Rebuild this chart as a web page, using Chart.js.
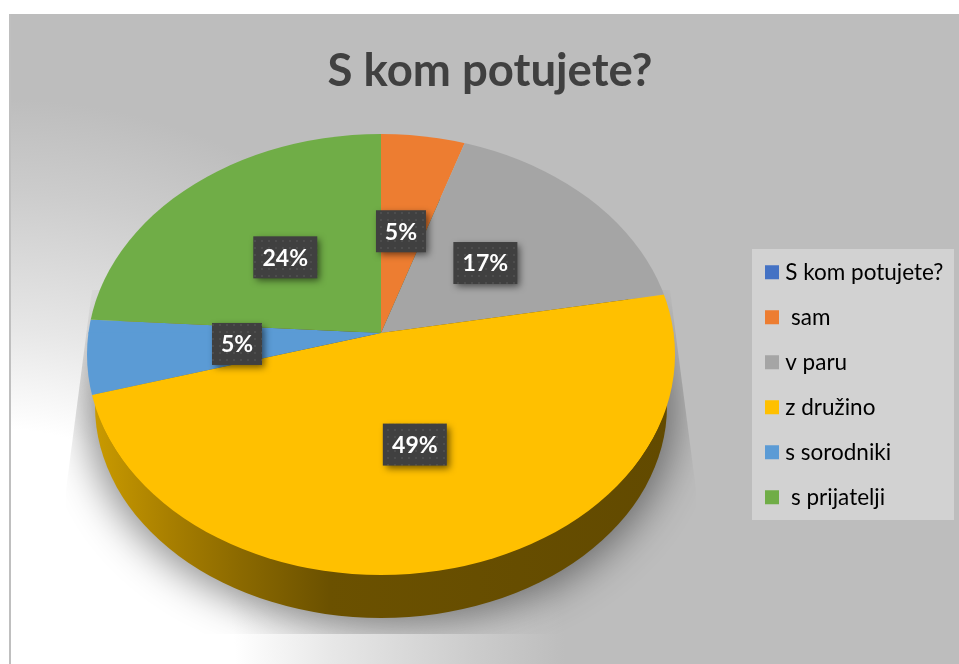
<!DOCTYPE html>
<html>
<head>
<meta charset="utf-8">
<style>html,body{margin:0;padding:0;background:#fff}canvas{display:block}</style>
<script src="https://cdn.jsdelivr.net/npm/chart.js@4"></script>
</head>
<body>
<canvas id="c" width="959" height="664"></canvas>
<script>
const chartTitle = 'S kom potujete?';
const categories = ['S kom potujete?', ' sam', 'v paru', 'z družino', 's sorodniki', ' s prijatelji'];
const shares = [0, 4.55, 17.25, 49.2, 5.1, 23.9];
const sliceColors = ['#4472c4', '#ed7d31', '#a5a5a5', '#ffc000', '#5b9bd5', '#70ad47'];

const FONT = 'Lato, "Open Sans", sans-serif';
const APEX = {x: 381, y: 333};
const RIM = {x: 381, y: 354.5, rx: 294, ry: 220.5};
const FLOOR = {x: 381, y: 406, rx: 286, ry: 212};
const labelReach = [0, .514, .495, .458, .482, .497];
const labelNudge = [[0, 0], [-2, 0], [-5, -3], [3, 0], [0, 0], [6, -3]];

function ellipse(ctx, e) { ctx.beginPath(); ctx.ellipse(e.x, e.y, e.rx, e.ry, 0, 0, Math.PI * 2); }

const scene = {
  id: 'scene',
  afterLayout(chart) {
    const t = chart.titleBlock, l = chart.legend;
    t.left = 0; t.right = 980; t.top = 44;
    const p = l.options.labels.padding;
    const w = l.right - l.left;
    l.left = 770 - p; l.right = l.left + w;
    const h = l.bottom - l.top;
    l.top = 261 - p; l.bottom = l.top + h;
  },
  beforeDraw(chart) {
    const ctx = chart.ctx;
    ctx.save();
    ctx.fillStyle = '#fff'; ctx.fillRect(0, 0, 959, 664);
    const g = ctx.createRadialGradient(0, 664, 235, 0, 664, 565);
    g.addColorStop(0, '#ffffff'); g.addColorStop(.3, '#e7e7e7');
    g.addColorStop(.72, '#cccccc'); g.addColorStop(1, '#bdbdbd');
    ctx.fillStyle = g; ctx.fillRect(9, 14, 950, 650);
    ctx.fillStyle = '#bfbfbf'; ctx.fillRect(9, 14, 2, 650);
    ctx.fillStyle = '#d2d2d2'; ctx.fillRect(752, 249, 202, 271);
    ctx.restore();
  },
  beforeDatasetsDraw(chart) {
    const ctx = chart.ctx;
    // cast shadow (source ellipse kept off canvas, only its blur lands here)
    ctx.save();
    ctx.beginPath();
    ctx.moveTo(92, 290); ctx.lineTo(670, 290); ctx.lineTo(696, 490);
    ctx.lineTo(696, 634); ctx.lineTo(66, 634); ctx.lineTo(66, 490); ctx.closePath();
    ctx.clip();
    ctx.shadowColor = 'rgba(0,0,0,.45)'; ctx.shadowBlur = 40; ctx.shadowOffsetX = 3000;
    ctx.fillStyle = '#000';
    ellipse(ctx, {x: 381 - 3000, y: 408, rx: 294, ry: 218}); ctx.fill();
    ctx.restore();
    // side wall
    ctx.save();
    const w = ctx.createLinearGradient(95, 0, 667, 0);
    w.addColorStop(0, '#c99a00'); w.addColorStop(.13, '#a87f00');
    w.addColorStop(.25, '#8c6a00'); w.addColorStop(.41, '#6b5100'); w.addColorStop(1, '#624a00');
    ctx.fillStyle = w; ellipse(ctx, FLOOR); ctx.fill();
    ctx.restore();
    // top face: library arcs tilted about the apex, upper and lower halves in perspective
    const meta = chart.getDatasetMeta(0);
    const a0 = meta.data[1];
    const R = a0.outerRadius;
    [[0, APEX.y + .5, 200], [APEX.y - .5, 664, 250]].forEach(([y0, y1, sy]) => {
      ctx.save();
      ellipse(ctx, RIM); ctx.clip();
      ctx.beginPath(); ctx.rect(0, y0, 959, y1 - y0); ctx.clip();
      ctx.translate(APEX.x, APEX.y);
      ctx.scale(300 / R, sy / R);
      ctx.translate(-a0.x, -a0.y);
      meta.data.forEach(a => a.draw(ctx));
      ctx.restore();
    });
    // value labels
    const total = shares.reduce((s, v) => s + v, 0);
    const tile = document.createElement('canvas'); tile.width = tile.height = 7;
    const tc = tile.getContext('2d');
    tc.fillStyle = 'rgba(255,255,255,.07)'; tc.fillRect(2, 2, 2, 2);
    const pat = ctx.createPattern(tile, 'repeat');
    ctx.save();
    ctx.font = 'bold 23px ' + FONT;
    meta.data.forEach((a, i) => {
      if (!shares[i]) return;
      const mid = (a.startAngle + a.endAngle) / 2;
      const c = Math.cos(mid), s = Math.sin(mid);
      const px = APEX.x + c * 300 * labelReach[i] + labelNudge[i][0];
      const py = APEX.y + s * (s < 0 ? 200 : 250) * labelReach[i] + labelNudge[i][1];
      const txt = Math.round(shares[i] / total * 100) + '%';
      const bw = i === 1 || i === 4 ? 50 : 64, bh = 42;
      ctx.save();
      ctx.shadowColor = 'rgba(0,0,0,.55)'; ctx.shadowBlur = 7; ctx.shadowOffsetX = 3; ctx.shadowOffsetY = 3;
      ctx.fillStyle = '#404040';
      ctx.fillRect(px - bw / 2, py - bh / 2, bw, bh);
      ctx.restore();
      ctx.fillStyle = pat; ctx.fillRect(px - bw / 2, py - bh / 2, bw, bh);
      ctx.fillStyle = '#fff'; ctx.textAlign = 'center'; ctx.textBaseline = 'middle';
      ctx.fillText(txt, px, py + 1);
    });
    ctx.restore();
    return false;
  }
};

new Chart(document.getElementById('c'), {
  type: 'pie',
  data: {
    labels: categories,
    datasets: [{data: shares, backgroundColor: sliceColors, borderWidth: 0}]
  },
  options: {
    responsive: false,
    animation: false,
    layout: {padding: 0},
    plugins: {
      tooltip: {enabled: false},
      title: {
        display: true, text: chartTitle, color: '#404040',
        font: {family: FONT, size: 45.5, weight: 'bold', lineHeight: 1.2}, padding: 0
      },
      legend: {
        position: 'right', align: 'start',
        labels: {
          color: '#404040',
          font: {family: FONT, size: 22.5, lineHeight: 1.2},
          boxWidth: 4, boxHeight: 4, padding: 22.5,
          generateLabels: chart => categories.map((t, i) => ({
            text: t, fillStyle: sliceColors[i], strokeStyle: sliceColors[i], lineWidth: 10, index: i
          }))
        }
      }
    }
  },
  plugins: [scene]
});
</script>
</body>
</html>
